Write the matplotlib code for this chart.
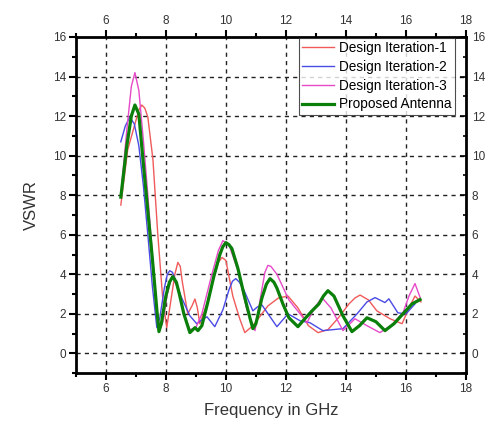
import matplotlib.pyplot as plt
from matplotlib.ticker import MultipleLocator

plt.rcParams['font.family'] = ['Liberation Sans', 'DejaVu Sans']

# Design Iteration-1
x_it1 = [6.5, 6.73, 6.97, 7.1, 7.2, 7.3, 7.4, 7.57, 7.73, 7.9, 8.03, 8.2,
         8.3, 8.4, 8.48, 8.55, 8.73, 8.87, 8.97, 9.05, 9.13, 9.35, 9.57,
         9.75, 9.87, 10.0, 10.23, 10.45, 10.63, 10.9, 11.15, 11.4, 11.75,
         12.07, 12.4, 12.75, 13.07, 13.4, 13.75, 14.1, 14.3, 14.47, 14.75,
         15.03, 15.47, 15.87, 16.1, 16.3, 16.5]
y_it1 = [7.5, 10.3, 11.6, 12.3, 12.56, 12.4, 11.95, 9.8, 6.05, 2.7, 1.3, 3.0,
         4.0, 4.6, 4.4, 3.6, 2.0, 2.4, 2.75, 2.3, 1.5, 2.4, 3.7,
         4.6, 4.85, 4.7, 2.9, 1.8, 1.05, 1.4, 1.9, 2.4, 2.8,
         2.9, 2.3, 1.4, 1.05, 1.2, 1.8, 2.5, 2.8, 2.95, 2.7,
         2.15, 1.75, 1.5, 2.3, 2.9, 2.6]

# Design Iteration-2
x_it2 = [6.5, 6.65, 6.8, 6.95, 7.1, 7.25, 7.4, 7.55, 7.7, 7.8, 7.95, 8.05,
         8.13, 8.22, 8.3, 8.5, 8.8, 9.03, 9.2, 9.37, 9.63, 9.9, 10.1, 10.22,
         10.33, 10.45, 10.6, 10.9, 11.05, 11.2, 11.45, 11.7, 12.07, 12.47,
         12.8, 13.23, 13.9, 14.37, 14.7, 14.97, 15.3, 15.43, 15.73, 16.0,
         16.3]
y_it2 = [10.7, 11.5, 11.95, 11.6, 10.5, 8.5, 6.0, 3.4, 1.3, 1.8, 3.3, 4.0,
         4.18, 4.1, 3.8, 2.9, 1.9, 1.5, 1.7, 1.85, 1.35, 2.2, 3.2, 3.65,
         3.78, 3.6, 3.2, 2.15, 2.35, 2.45, 1.9, 1.35, 2.0, 1.65,
         1.55, 1.15, 1.25, 2.0, 2.6, 2.82, 2.57, 2.76, 2.05, 2.0,
         2.5]

# Design Iteration-3
x_it3 = [6.5, 6.7, 6.85, 6.97, 7.1, 7.25, 7.4, 7.55, 7.7, 7.8, 7.9, 8.05,
         8.2, 8.4, 8.6, 8.8, 9.0, 9.2, 9.5, 9.75, 9.9, 10.1, 10.4, 10.7,
         10.97, 11.15, 11.3, 11.4, 11.5, 11.7, 12.1, 12.47, 12.7, 12.95,
         13.2, 13.5, 13.9, 14.3, 14.7, 15.13, 15.5, 15.9, 16.1, 16.3, 16.47]
y_it3 = [8.0, 11.3, 13.5, 14.2, 13.3, 10.8, 8.0, 5.0, 2.2, 1.2, 1.6, 3.0,
         3.9, 3.3, 2.0, 1.2, 1.3, 2.0, 3.8, 5.2, 5.7, 5.5, 4.2, 2.2,
         1.15, 2.8, 4.1, 4.45, 4.4, 4.0, 2.7, 2.0, 1.55, 2.3,
         2.82, 2.3, 1.15, 1.75, 1.4, 1.05, 1.4, 2.05, 2.9, 3.53, 2.83]

# Proposed Antenna
x_prop = [6.5, 6.7, 6.85, 6.97, 7.1, 7.25, 7.4, 7.55, 7.7, 7.77, 7.85, 8.0,
          8.12, 8.23, 8.35, 8.45, 8.6, 8.8, 8.97, 9.07, 9.2, 9.4, 9.6, 9.8,
          9.9, 10.0, 10.1, 10.2, 10.4, 10.6, 10.8, 10.9, 11.0, 11.2, 11.35,
          11.47, 11.6, 11.7, 11.9, 12.1, 12.4, 12.6, 12.87, 13.1, 13.25,
          13.4, 13.6, 13.9, 14.2, 14.45, 14.7, 15.0, 15.3, 15.6, 15.9, 16.2,
          16.47]
y_prop = [7.9, 10.5, 12.0, 12.56, 12.1, 9.6, 7.2, 4.8, 2.2, 1.1, 1.5, 2.9,
          3.6, 3.88, 3.6, 3.0, 2.0, 1.05, 1.3, 1.15, 1.4, 2.6, 3.9, 5.0,
          5.4, 5.6, 5.5, 5.3, 4.3, 3.0, 1.8, 1.25, 1.5, 2.8, 3.5,
          3.78, 3.6, 3.3, 2.5, 1.8, 1.35, 1.7, 2.15, 2.5, 2.9,
          3.17, 2.9, 1.9, 1.1, 1.4, 1.8, 1.6, 1.15, 1.5, 2.0, 2.5,
          2.72]

fig = plt.figure(figsize=(4.89, 4.25), dpi=100)
ax = fig.add_axes([0.155, 0.122, 0.798, 0.791])

ax.plot(x_it1, y_it1, color='#f05a5a', lw=1.0, label='Design Iteration-1')
ax.plot(x_it2, y_it2, color='#4a4ae6', lw=1.0, label='Design Iteration-2')
ax.plot(x_it3, y_it3, color='#e64ac8', lw=1.0, label='Design Iteration-3')
ax.plot(x_prop, y_prop, color='#0a800a', lw=2.3, label='Proposed Antenna')

ax.set_xlim(5, 18)
ax.set_ylim(-1, 16)
ax.xaxis.set_minor_locator(MultipleLocator(1))
ax.yaxis.set_minor_locator(MultipleLocator(1))
ax.set_xticks(range(6, 19, 2))
ax.set_yticks(range(0, 17, 2))

ax.tick_params(which='both', direction='out', top=True, right=False,
               labeltop=True, width=1.5,
               labelsize=8.5, labelcolor='#333333', pad=2)
ax.tick_params(which='major', length=5)
ax.tick_params(which='minor', length=3)
for s in ax.spines.values():
    s.set_linewidth(2)

# right axis: inward ticks, labels outside
ax_r = ax.twinx()
ax_r.set_ylim(ax.get_ylim())
ax_r.set_yticks(range(0, 17, 2))
ax_r.yaxis.set_minor_locator(MultipleLocator(1))
ax_r.tick_params(which='both', direction='in', width=1.2,
                 labelsize=8.5, labelcolor='#333333', pad=4)
ax_r.tick_params(which='major', length=4)
ax_r.tick_params(which='minor', length=2)
for s in ax_r.spines.values():
    s.set_visible(False)

# dashed grid at interior major ticks
for gx in range(6, 17, 2):
    ax.axvline(gx, color='#222222', lw=1, ls=(0, (3, 3)), zorder=0)
for gy in range(0, 15, 2):
    ax.axhline(gy, color='#222222', lw=1, ls=(0, (3, 3)), zorder=0)

ax.set_xlabel('Frequency in GHz', fontsize=12, color='#333333', labelpad=6)
ax.set_ylabel('VSWR', fontsize=12, color='#333333', labelpad=10)

leg = ax.legend(loc='upper right', bbox_to_anchor=(0.972, 0.998),
                fontsize=9.8, frameon=True, fancybox=False,
                edgecolor='#222222', borderaxespad=0, handlelength=2.3,
                borderpad=0.25, labelspacing=0.35, handletextpad=0.4)
leg.get_frame().set_linewidth(0.8)

fig.savefig('out.png', dpi=100)
